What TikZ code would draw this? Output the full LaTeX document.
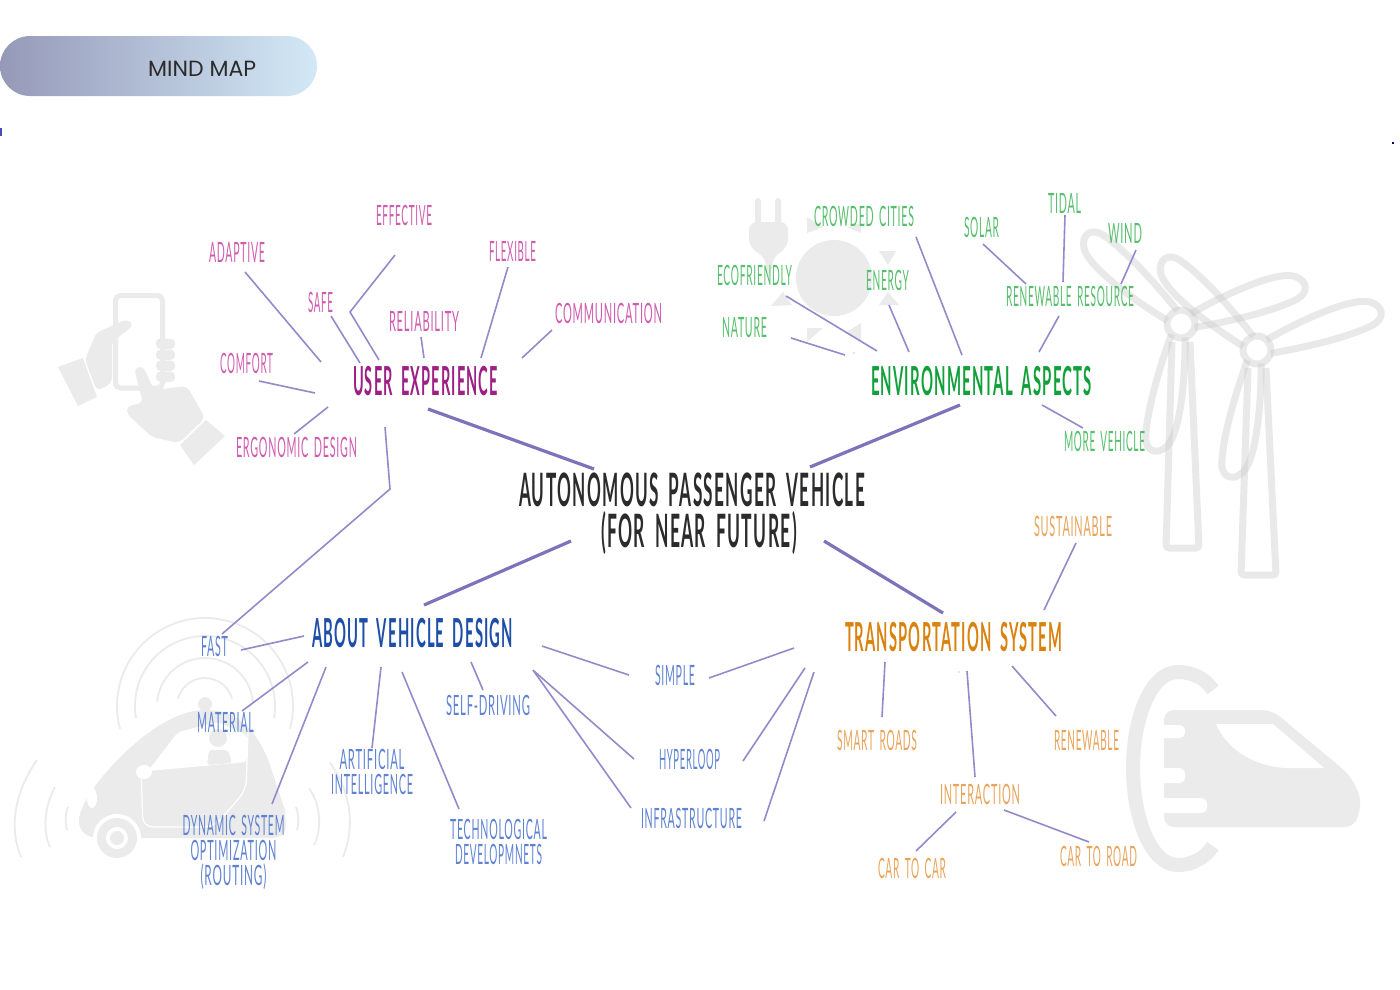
\documentclass[tikz,border=0pt]{standalone}
\usepackage{fontspec}
\usepackage{graphicx}
\setmainfont{Lato}
\newfontfamily\pillfont{Poppins}
\newfontfamily\minorf[LetterSpace=7,WordSpace=1.6]{Lato}
\newfontfamily\majorf[LetterSpace=8,WordSpace=1.8]{Lato}
\definecolor{ic}{HTML}{EBEBEB}
\definecolor{linkc}{HTML}{9389CB}
\definecolor{thickc}{HTML}{7C73BA}
\definecolor{ux}{HTML}{9C1F84}
\definecolor{uxl}{HTML}{CF5CAF}
\definecolor{env}{HTML}{12A03A}
\definecolor{envl}{HTML}{55BF6C}
\definecolor{veh}{HTML}{1D4FA8}
\definecolor{vehl}{HTML}{5F83D2}
\definecolor{tra}{HTML}{D9820F}
\definecolor{tral}{HTML}{E9A45A}
\definecolor{ink}{HTML}{2B2B2B}
\definecolor{pilla}{HTML}{9599B8}
\definecolor{pillb}{HTML}{D3E9F7}
\tikzset{
  lbl/.style={inner sep=0pt,outer sep=0pt,anchor=west},
  minor/.style={lbl,font=\minorf\fontsize{28}{30}\selectfont},
  major/.style={lbl,font=\majorf\fontsize{40}{42}\selectfont\bfseries},
  minorblock/.style={inner sep=0pt,outer sep=0pt,anchor=center,font=\minorf\fontsize{28}{30}\selectfont},
  titleblock/.style={inner sep=0pt,outer sep=0pt,anchor=center,text=ink,font=\majorf\fontsize{46}{48}\selectfont\bfseries},
  link/.style={draw=linkc,line width=1.6pt},
  thicklink/.style={draw=thickc,line width=3.2pt},
  iconfill/.style={fill=ic,draw=none},
  iconline/.style={draw=ic,fill=none},
  turb/.style={draw=black!22,opacity=.38,line width=7pt,fill=none,line join=round},
}
\newcommand\lab[6]{\node[#5] (#1) at (#2,#4) {\resizebox{\the\numexpr#3-#2\relax pt}{\height}{#6}};}
\newcommand\stackline[4]{\hbox to #1pt{\hss\kern#2pt\resizebox{#3pt}{\height}{#4}\hss}}
\newcommand\stacked[2]{\vbox{\baselineskip=#1pt\lineskiplimit=-100pt\lineskip=0pt #2}}
\newcommand\conn[3]{\coordinate (#1-a) at (#2);\coordinate (#1-b) at (#3);\draw[link] (#1-a) -- (#1-b);}
\newcommand\thickconn[3]{\coordinate (#1-a) at (#2);\coordinate (#1-b) at (#3);\draw[thicklink] (#1-a) -- (#1-b);}
\newcommand\blade[2]{\begin{scope}[shift={(#1)},rotate=#2]
  \draw[turb] (12,-7) .. controls (50,-16) and (105,-24) .. (122,-14) .. controls (134,-6) and (132,6) .. (118,9) .. controls (90,14) and (45,11) .. (12,7);
\end{scope}}
\begin{document}
\begin{tikzpicture}[x=1pt,y=-1pt]
\useasboundingbox (0,0) rectangle (1400,989);
\fill[white] (0,0) rectangle (1400,989);
% pill
\shade[left color=pilla,right color=pillb,rounded corners=30pt] (0,36) rectangle (317,96);
\node[inner sep=0pt,anchor=west,text=ink,font=\pillfont\fontsize{22}{24}\selectfont] (mindmap) at (148,68.5) {\resizebox{108pt}{\height}{MIND MAP}};
\fill[blue!60!black!70] (0,128) rectangle (2,136);
\fill[blue!40!black] (1392,142) rectangle (1394,144);
% phone icon
\draw[iconline,line width=5pt,rounded corners=5pt] (115.5,295.5) rectangle (162.5,388);
\fill[iconfill] (58,367) -- (83,358) -- (97,397) -- (78,406) -- cycle;
\fill[iconfill,rounded corners=5pt] (85,360) -- (96,333) -- (127,319) -- (134,325) -- (112,342) -- (112,383) -- (97,391) -- cycle;
\foreach \yy in {344,355,366,377}{\fill[iconfill,rounded corners=4.5pt] (156,\yy-5.5) rectangle (175,\yy+5);}
\fill[iconfill,rounded corners=5pt] (134,368) -- (143,366) -- (154,390) -- (187,386) -- (205,418) -- (179,443) -- (152,437) -- (127,414) -- (127,406) -- (143,403) -- cycle;
\fill[iconfill] (206,420) -- (225,436) -- (194,465) -- (180,445) -- cycle;
% plug and sun
\fill[iconfill,rounded corners=3pt] (755,198) rectangle (761,226);
\fill[iconfill,rounded corners=3pt] (775,198) rectangle (781,226);
\fill[iconfill,rounded corners=8pt] (749,222) -- (788,222) -- (788,247) -- (772,258) -- (772,276) -- (766,276) -- (766,258) -- (749,247) -- cycle;
\fill[iconfill] (834,278) circle[radius=38];
\fill[iconfill] (807,217) -- (823,227) -- (807,233) -- cycle;
\fill[iconfill] (847,227) -- (861,223) -- (861,233) -- cycle;
\fill[iconfill] (879,251) -- (896,251) -- (888,265) -- cycle;
\fill[iconfill] (888,292) -- (899,305) -- (879,305) -- cycle;
\fill[iconfill] (783,292) -- (792,305) -- (771,306) -- cycle;
\fill[iconfill] (807,328) -- (823,328) -- (807,342) -- cycle;
\fill[iconfill] (861,323) -- (861,340) -- (845,333) -- cycle;
% turbines
\draw[turb,rounded corners=3pt] (1172,342) -- (1166,548) -- (1199,548) -- (1190,342);
\draw[turb,rounded corners=3pt] (1248,368) -- (1241,575) -- (1276,575) -- (1266,368);
\blade{1181,324}{135.6}
\blade{1181,324}{16.4}
\blade{1181,324}{257}
\draw[turb] (1181,324) circle[radius=14];
\blade{1257,350}{135}
\blade{1257,350}{16.5}
\blade{1257,350}{257}
\draw[turb] (1257,350) circle[radius=14];
% car
\foreach \rr/\aa/\bb in {28/-15/-165,48/-5/-175,70/10/-190,88/15/-195}{
  \draw[iconline,line width=1.8pt] (205,706) ++(\aa:\rr) arc[start angle=\aa,end angle=\bb,radius=\rr];}
\draw[iconline,line width=1.8pt] (37,760) .. controls (16,790) and (8,825) .. (21,857);
\draw[iconline,line width=1.8pt] (55,787) .. controls (45,805) and (42,830) .. (50,847);
\draw[iconline,line width=1.8pt] (68,807) .. controls (65,815) and (65,822) .. (67,830);
\draw[iconline,line width=1.8pt] (330,763) .. controls (350,790) and (356,825) .. (343,857);
\draw[iconline,line width=1.8pt] (309,788) .. controls (321,805) and (322,830) .. (314,845);
\draw[iconline,line width=1.8pt] (296,807) .. controls (299,815) and (299,822) .. (297,830);
\fill[iconfill] (205,704) circle[radius=7];
\fill[iconfill] (79,818) .. controls (82,805) and (90,790) .. (110,768) .. controls (140,735) and (175,710) .. (205,710) .. controls (235,710) and (255,725) .. (270,765) -- (285,810) -- (286,828) .. controls (285,835) and (278,838) .. (270,838) -- (100,838) .. controls (85,838) and (78,830) .. (79,818) -- cycle;
\fill[white,rounded corners=4pt] (148,771) -- (247,762) -- (247,735) -- (218,722) -- (178,732) -- cycle;
\fill[iconfill] (218,738) circle[radius=9];
\fill[iconfill,rounded corners=3pt] (207,765) -- (209,750) -- (228,750) -- (232,763) -- cycle;
\draw[white,line width=1.2pt,rounded corners=10pt] (141,770) -- (143,827) -- (214,827) -- (246,790) -- (248,733);
\fill[white] (92,798) ellipse[x radius=5,y radius=10];
\fill[white] (144,772) ellipse[x radius=8,y radius=7];
\fill[white] (117,838) circle[radius=24];
\fill[iconfill] (117,838) circle[radius=20];
\fill[white] (117,838) circle[radius=11];
\fill[iconfill] (117,838) circle[radius=7];
% train
\draw[iconline,line width=14pt] (1213,690) .. controls (1205,678) and (1192,672) .. (1178,672) .. controls (1150,672) and (1133,720) .. (1133,768) .. controls (1133,816) and (1150,865) .. (1178,865) .. controls (1192,865) and (1205,858) .. (1213,846);
\fill[iconfill,rounded corners=10pt] (1164,710) -- (1272,710) -- (1350,775) -- (1362,800) -- (1355,827) -- (1164,827) -- cycle;
\fill[white,rounded corners=6pt] (1150,725) rectangle (1185,738);
\fill[white,rounded corners=6pt] (1150,768) rectangle (1185,783);
\fill[white,rounded corners=6pt] (1150,798) rectangle (1207,813);
\fill[white] (1216,724) -- (1273,724) -- (1324,768) -- (1285,768) .. controls (1260,766) and (1230,755) .. (1216,724) -- cycle;
% labels
\node[titleblock] (title) at (692,513.5) {\stacked{41}{\stackline{346}{0}{346}{AUTONOMOUS PASSENGER VEHICLE}\stackline{346}{14}{196}{(FOR NEAR FUTURE)}}};
\lab{user}{353}{498}{381}{major,text=ux}{USER EXPERIENCE}
\lab{envi}{871}{1092}{381}{major,text=env}{ENVIRONMENTAL ASPECTS}
\lab{about}{312}{513}{633}{major,text=veh}{ABOUT VEHICLE DESIGN}
\lab{trans}{845}{1062}{637}{major,text=tra}{TRANSPORTATION SYSTEM}
\lab{effective}{376}{432}{215}{minor,text=uxl}{EFFECTIVE}
\lab{adaptive}{209}{265}{252}{minor,text=uxl}{ADAPTIVE}
\lab{safe}{308}{333}{302}{minor,text=uxl}{SAFE}
\lab{reliab}{389}{459}{321}{minor,text=uxl}{RELIABILITY}
\lab{flexible}{489}{536}{251}{minor,text=uxl}{FLEXIBLE}
\lab{commun}{555}{662}{313}{minor,text=uxl}{COMMUNICATION}
\lab{comfort}{220}{273}{363}{minor,text=uxl}{COMFORT}
\lab{ergo}{236}{357}{447}{minor,text=uxl}{ERGONOMIC DESIGN}
\lab{crowded}{814}{914}{216}{minor,text=envl}{CROWDED CITIES}
\lab{eco}{717}{792}{275}{minor,text=envl}{ECOFRIENDLY}
\lab{energy}{866}{909}{280}{minor,text=envl}{ENERGY}
\lab{nature}{722}{767}{328}{minor,text=envl}{NATURE}
\lab{solar}{964}{999}{227}{minor,text=envl}{SOLAR}
\lab{tidal}{1048}{1081}{203}{minor,text=envl}{TIDAL}
\lab{wind}{1108}{1142}{233}{minor,text=envl}{WIND}
\lab{resource}{1006}{1134}{296}{minor,text=envl}{RENEWABLE RESOURCE}
\lab{more}{1064}{1145}{441}{minor,text=envl}{MORE VEHICLE}
\lab{sustain}{1034}{1112}{526}{minor,text=tral}{SUSTAINABLE}
\lab{smart}{837}{917}{740}{minor,text=tral}{SMART ROADS}
\lab{renew}{1054}{1119}{740}{minor,text=tral}{RENEWABLE}
\lab{inter}{940}{1020}{794}{minor,text=tral}{INTERACTION}
\lab{cartocar}{878}{946}{868}{minor,text=tral}{CAR TO CAR}
\lab{cartoroad}{1060}{1137}{856}{minor,text=tral}{CAR TO ROAD}
\lab{fast}{201}{228}{646}{minor,text=vehl}{FAST}
\lab{material}{197}{254}{722}{minor,text=vehl}{MATERIAL}
\node[minorblock,text=vehl] (dyn) at (233.5,852) {\stacked{25}{\stackline{102}{0}{102}{DYNAMIC SYSTEM}\stackline{102}{0}{86}{OPTIMIZATION}\stackline{102}{0}{66}{(ROUTING)}}};
\node[minorblock,text=vehl] (ai) at (372,771.5) {\stacked{25}{\stackline{82}{0}{65}{ARTIFICIAL}\stackline{82}{0}{82}{INTELLIGENCE}}};
\node[minorblock,text=vehl] (tech) at (498.5,841.5) {\stacked{25}{\stackline{97}{0}{97}{TECHNOLOGICAL}\stackline{97}{0}{87}{DEVELOPMNETS}}};
\lab{selfd}{446}{530}{705}{minor,text=vehl}{SELF-DRIVING}
\lab{simple}{655}{695}{675}{minor,text=vehl}{SIMPLE}
\lab{hyper}{659}{720}{759}{minor,text=vehl}{HYPERLOOP}
\lab{infra}{641}{742}{818}{minor,text=vehl}{INFRASTRUCTURE}
% connectors
\thickconn{t1}{428,409}{594,469}
\thickconn{t2}{960,405}{810,467}
\thickconn{t3}{571,541}{424,605}
\thickconn{t4}{824,541}{943,613}
\conn{c-adaptive}{245,272}{321,362}
\coordinate (c-eff-m) at (350,312);
\coordinate (c-eff-a) at (395,255);
\coordinate (c-eff-b) at (379,360);
\draw[link] (c-eff-a) -- (c-eff-m) -- (c-eff-b);
\conn{c-safe}{331,316}{360,363}
\conn{c-rel}{421,337}{424,358}
\conn{c-flex}{508,267}{481,358}
\conn{c-comm}{552,330}{522,358}
\conn{c-comf}{259,381}{315,393}
\conn{c-ergo}{328,407}{294,434}
\coordinate (c-ufast-a) at (385,427);
\coordinate (c-ufast-m) at (390,489);
\coordinate (c-ufast-b) at (222,634);
\draw[link] (c-ufast-a) -- (c-ufast-m) -- (c-ufast-b);
\conn{c-nat}{791,338}{845,355}
\conn{c-eco}{786,296}{877,351}
\conn{c-ene}{889,305}{909,352}
\conn{c-cro}{916,237}{962,355}
\conn{c-sol}{983,244}{1026,284}
\conn{c-tid}{1065,215}{1063,282}
\conn{c-win}{1136,250}{1121,284}
\conn{c-res}{1059,316}{1039,352}
\conn{c-mor}{1042,405}{1083,428}
\conn{c-sus}{1076,543}{1044,610}
\conn{c-sma}{885,662}{882,717}
\conn{c-int}{967,671}{975,777}
\conn{c-ren}{1012,666}{1056,716}
\conn{c-cc}{956,812}{916,851}
\conn{c-cr}{1004,810}{1089,842}
\conn{c-st}{794,648}{709,678}
\conn{c-sa}{542,646}{629,675}
\conn{c-ht}{805,668}{743,761}
\conn{c-ha}{534,671}{634,759}
\conn{c-it}{814,672}{764,821}
\conn{c-ia}{533,670}{631,808}
\conn{c-self}{471,662}{483,690}
\conn{c-tech}{402,672}{459,809}
\conn{c-ai}{381,667}{372,748}
\conn{c-dyn}{326,667}{272,804}
\conn{c-mat}{308,662}{242,711}
\conn{c-fast}{304,636}{241,650}
\fill[linkc] (854,353) circle[radius=.6];
\fill[linkc] (959,672) circle[radius=.6];
\end{tikzpicture}
\end{document}
